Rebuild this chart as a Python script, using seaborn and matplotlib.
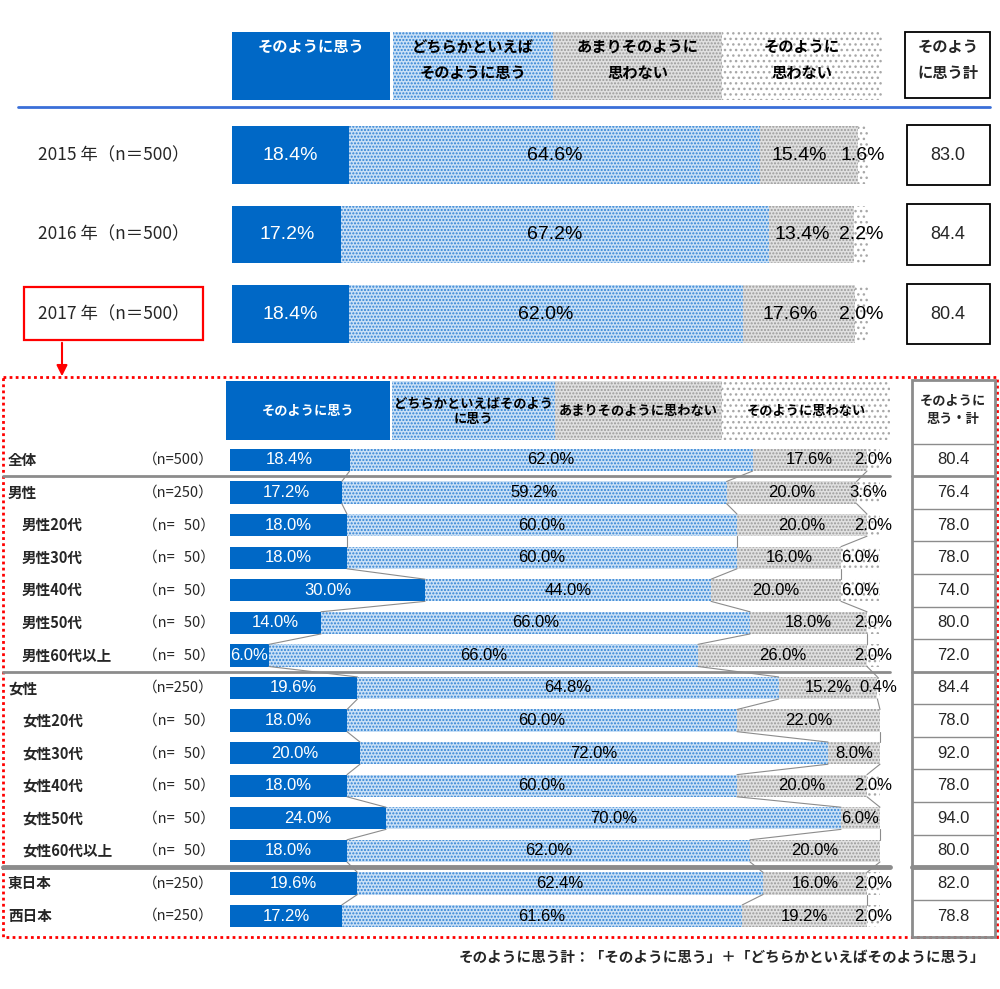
import numpy as np
import matplotlib
matplotlib.use("Agg")
import matplotlib.pyplot as plt
import matplotlib.transforms as mtransforms
from matplotlib.patches import Rectangle
import seaborn as sns

sns.set_theme(style="white")
plt.rcParams["font.family"] = ["Noto Sans CJK JP", "DejaVu Sans"]
plt.rcParams["hatch.linewidth"] = 1.0

# ---------------------------------------------------------------------------
# data: yearly trend
# ---------------------------------------------------------------------------
years = ["2015 年（n＝500）", "2016 年（n＝500）", "2017 年（n＝500）"]
yr_agree = [18.4, 17.2, 18.4]
yr_somewhat = [64.6, 67.2, 62.0]
yr_notmuch = [15.4, 13.4, 17.6]
yr_notatall = [1.6, 2.2, 2.0]
yr_total = [83.0, 84.4, 80.4]

# ---------------------------------------------------------------------------
# data: 2017 breakdown
# ---------------------------------------------------------------------------
groups = ["全体", "男性", "男性20代", "男性30代", "男性40代", "男性50代", "男性60代以上",
          "女性", "女性20代", "女性30代", "女性40代", "女性50代", "女性60代以上",
          "東日本", "西日本"]
n50 = "（n=\u200750）"
group_n = ["（n=500）", "（n=250）", n50, n50, n50, n50, n50,
           "（n=250）", n50, n50, n50, n50, n50,
           "（n=250）", "（n=250）"]
sub_agree = [18.4, 17.2, 18.0, 18.0, 30.0, 14.0, 6.0, 19.6, 18.0, 20.0, 18.0, 24.0, 18.0, 19.6, 17.2]
sub_somewhat = [62.0, 59.2, 60.0, 60.0, 44.0, 66.0, 66.0, 64.8, 60.0, 72.0, 60.0, 70.0, 62.0, 62.4, 61.6]
sub_notmuch = [17.6, 20.0, 20.0, 16.0, 20.0, 18.0, 26.0, 15.2, 22.0, 8.0, 20.0, 6.0, 20.0, 16.0, 19.2]
sub_notatall = [2.0, 3.6, 2.0, 6.0, 6.0, 2.0, 2.0, 0.4, 0.0, 0.0, 2.0, 0.0, 0.0, 2.0, 2.0]
sub_total = [80.4, 76.4, 78.0, 78.0, 74.0, 80.0, 72.0, 84.4, 78.0, 92.0, 78.0, 94.0, 80.0, 82.0, 78.8]
main_groups = ["全体", "男性", "女性", "東日本", "西日本"]

legend_top = ["そのように思う", "どちらかといえば\nそのように思う", "あまりそのように\n思わない", "そのように\n思わない"]
legend_bottom = ["そのように思う", "どちらかといえばそのよう\nに思う", "あまりそのように思わない", "そのように思わない"]

# segment styles: (face, hatch, hatch colour)
styles = [
    ("#0068c6", None, "#0068c6"),
    ("#c9e0f6", ".....", "#2f82d4"),
    ("#e0e0e0", ".....", "#9a9a9a"),
    ("white", "...", "#a8a8a8"),
]
num_font = ["Liberation Sans", "DejaVu Sans"]

W, H = 1000, 989
fig = plt.figure(figsize=(10, 9.89), dpi=100)

# background axes in pixel coordinates for the frame / legend decorations
deco = fig.add_axes([0, 0, 1, 1])
deco.set_xlim(0, W)
deco.set_ylim(H, 0)
deco.axis("off")


def px_axes(x0, y0, x1, y1):
    return fig.add_axes([x0 / W, 1 - y1 / H, (x1 - x0) / W, (y1 - y0) / H])


def box(x0, y0, x1, y1, k):
    face, hatch, hc = styles[k]
    deco.add_patch(Rectangle((x0, y0), x1 - x0, y1 - y0, facecolor=face,
                             hatch=hatch, edgecolor=hc, linewidth=0))


def stacked(ax, labels, series, width):
    cum = np.cumsum(np.array(series), axis=0)
    for k in range(len(series) - 1, -1, -1):
        face, hatch, hc = styles[k]
        n0 = len(ax.patches)
        sns.barplot(x=cum[k], y=labels, orient="h", color=face, saturation=1,
                    width=width, errorbar=None, ax=ax)
        for p in ax.patches[n0:]:
            p.set_edgecolor(hc)
            p.set_linewidth(0)
            if hatch:
                p.set_hatch(hatch)
    ax.set_xlim(0, 100)
    ax.set_ylim(len(labels) - 0.5, -0.5)
    ax.axis("off")
    return cum


# ---------------------------------------------------------------------------
# top legend
# ---------------------------------------------------------------------------
top_boxes = [(232, 390), (393, 553), (553, 722), (722, 882)]
for k, (x0, x1) in enumerate(top_boxes):
    box(x0, 32, x1, 100, k)
    deco.text((x0 + x1) / 2, 39, legend_top[k], ha="center", va="top", fontsize=11,
              fontweight="bold", linespacing=1.75, color="white" if k == 0 else "black")
deco.add_patch(Rectangle((905, 32), 85, 66, facecolor="white", edgecolor="black", linewidth=1.3))
deco.text(948, 39, "そのよう\nに思う計", ha="center", va="top", fontsize=11,
          fontweight="bold", linespacing=1.75)
deco.plot([18, 990], [107, 107], color="#3a6fd8", linewidth=2)

# ---------------------------------------------------------------------------
# top bars
# ---------------------------------------------------------------------------
ax1 = px_axes(232, 115.25, 868, 353.75)
vals1 = [yr_agree, yr_somewhat, yr_notmuch, yr_notatall]
cum1 = stacked(ax1, years, vals1, 0.72)
tr1 = mtransforms.blended_transform_factory(deco.transData, ax1.transData)
for i, lab in enumerate(years):
    ax1.text(38, i, lab, transform=tr1, ha="left", va="center", fontsize=12.5)
    for k in range(4):
        v = vals1[k][i]
        xc = cum1[k][i] - v / 2
        if k == 2:
            xc -= 1.5
        ax1.text(xc, i, f"{v:.1f}%", ha="center", va="center", fontsize=14,
                 family=num_font, color="white" if k == 0 else "black")
    ax1.add_patch(Rectangle((907, i - 0.38), 83, 0.76, transform=tr1, facecolor="white",
                            edgecolor="black", linewidth=1.3, clip_on=False))
    ax1.text(948, i, f"{yr_total[i]:.1f}", transform=tr1, ha="center", va="center",
             fontsize=13, family=num_font)

# red frame + arrow to the breakdown
deco.add_patch(Rectangle((24, 287), 179, 53, facecolor="none", edgecolor="#ff0000", linewidth=1.6))
deco.annotate("", xy=(62, 379), xytext=(62, 340),
              arrowprops=dict(arrowstyle="-|>", color="#ff0000", lw=1.5, mutation_scale=16))
deco.add_patch(Rectangle((3, 377), 994, 560, facecolor="none", edgecolor="#ff0000",
                         linewidth=2, linestyle=(0, (1, 1.2))))

# ---------------------------------------------------------------------------
# bottom legend
# ---------------------------------------------------------------------------
bot_boxes = [(226, 390), (392, 555), (555, 722), (722, 890)]
for k, (x0, x1) in enumerate(bot_boxes):
    box(x0, 381, x1, 440, k)
    deco.text((x0 + x1) / 2, 411, legend_bottom[k], ha="center", va="center", fontsize=9.5,
              fontweight="bold", linespacing=1.1, color="white" if k == 0 else "black")
deco.text(953, 410, "そのように\n思う・計", ha="center", va="center", fontsize=9.5,
          fontweight="bold", linespacing=1.3)

# ---------------------------------------------------------------------------
# bottom bars
# ---------------------------------------------------------------------------
ax2 = px_axes(230, 443.7, 880, 932.3)
bw = 0.68
vals2 = [sub_agree, sub_somewhat, sub_notmuch, sub_notatall]
cum2 = stacked(ax2, groups, vals2, bw)
tr2 = mtransforms.blended_transform_factory(deco.transData, ax2.transData)

# series connector lines
for i in range(len(groups) - 1):
    for k in range(3):
        ax2.plot([cum2[k][i], cum2[k][i + 1]], [i + bw / 2, i + 1 - bw / 2],
                 color="#8c8c8c", linewidth=0.8, clip_on=False)

for i, g in enumerate(groups):
    x_lab = 8 if g in main_groups else 22
    ax2.text(x_lab, i, g, transform=tr2, ha="left", va="center", fontsize=10.5, fontweight="bold")
    ax2.text(143, i, group_n[i], transform=tr2, ha="left", va="center", fontsize=10.5)
    for k in range(4):
        v = vals2[k][i]
        if v <= 0:
            continue
        ax2.text(cum2[k][i] - v / 2, i, f"{v:.1f}%", ha="center", va="center", fontsize=12,
                 family=num_font, color="white" if k == 0 else "black", clip_on=False)
    ax2.text(953, i, f"{sub_total[i]:.1f}", transform=tr2, ha="center", va="center",
             fontsize=12, family=num_font)

# group separators and table rules
n = len(groups)
for b in np.arange(-0.5, n - 0.5):
    thick = b in (0.5, 6.5, 12.5)
    lw = 3.5 if b == 12.5 else (2 if thick else 1)
    ax2.plot([912, 995], [b, b], transform=tr2, color="#8c8c8c", linewidth=lw, clip_on=False)
    if thick:
        ax2.plot([3, 890], [b, b], transform=tr2, color="#8c8c8c", linewidth=lw, clip_on=False)
deco.add_patch(Rectangle((912, 380), 83, 557, facecolor="none", edgecolor="#8c8c8c", linewidth=2))

# footnote
deco.text(985, 957, "そのように思う計：「そのように思う」＋「どちらかといえばそのように思う」",
          ha="right", va="center", fontsize=10.5, fontweight="bold")

fig.savefig("out.png", dpi=100)
